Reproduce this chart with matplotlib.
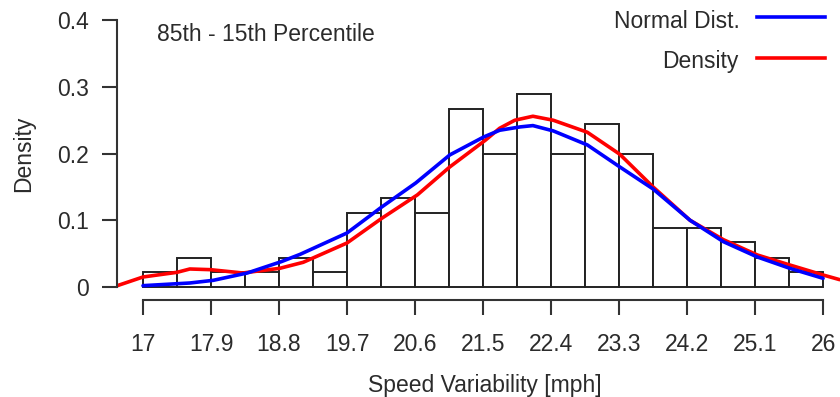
import numpy as np
import matplotlib
matplotlib.use('Agg')
import matplotlib.pyplot as plt
from matplotlib.lines import Line2D

plt.rcParams['font.family'] = ['Liberation Sans', 'DejaVu Sans']

# Histogram (density) - bins of 0.45 mph from 17 to 26
bin_edges = np.arange(17, 26.001, 0.45)
hist_density = [0.022, 0.044, 0.022, 0.022, 0.044, 0.022, 0.111, 0.133, 0.111, 0.267,
                0.200, 0.289, 0.200, 0.244, 0.200, 0.089, 0.089, 0.067, 0.044, 0.022]

# Fitted normal curve
normal_x = [17.00, 17.62, 17.93, 18.38, 18.83, 19.08, 19.70, 20.16, 20.61, 21.06, 21.51, 21.72,
            21.99, 22.16, 22.43, 22.88, 23.31, 23.75, 24.24, 24.68, 25.13, 25.56, 26.00]
normal_y = [0.002, 0.006, 0.010, 0.021, 0.038, 0.049, 0.081, 0.120, 0.156, 0.198, 0.225, 0.235,
            0.240, 0.242, 0.234, 0.213, 0.180, 0.147, 0.100, 0.068, 0.045, 0.028, 0.013]

# Kernel density curve
kde_x = [16.66, 17.00, 17.45, 17.62, 17.89, 18.32, 18.81, 19.12, 19.70, 20.16, 20.63, 21.06, 21.53,
         21.72, 21.92, 22.16, 22.43, 22.88, 23.31, 23.75, 24.24, 24.68, 25.13, 25.56, 26.00, 26.22]
kde_y = [0.002, 0.015, 0.022, 0.027, 0.026, 0.021, 0.028, 0.037, 0.066, 0.103, 0.138, 0.180, 0.220,
         0.238, 0.250, 0.256, 0.250, 0.232, 0.199, 0.150, 0.100, 0.071, 0.048, 0.033, 0.018, 0.011]

x_ticks = [17, 17.9, 18.8, 19.7, 20.6, 21.5, 22.4, 23.3, 24.2, 25.1, 26]
x_tick_labels = ['17', '17.9', '18.8', '19.7', '20.6', '21.5', '22.4', '23.3', '24.2', '25.1', '26']
y_ticks = [0, 0.1, 0.2, 0.3, 0.4]
y_tick_labels = ['0', '0.1', '0.2', '0.3', '0.4']

W, H = 840, 397
fs = 16.5
txt = '#2b2b2b'
axc = '#333333'


def fx(px):
    return px / W


def fy(py):
    return 1 - py / H


fig = plt.figure(figsize=(W / 100, H / 100), dpi=100)
ax = fig.add_axes([fx(117), fy(300), fx(840) - fx(117), fy(10) - fy(300)])

widths = np.diff(bin_edges)
ax.bar(bin_edges[:-1], hist_density, width=widths, align='edge',
       facecolor='white', edgecolor='#222222', linewidth=1.4)
ax.plot(kde_x, kde_y, color='#ff0000', lw=2.6, solid_capstyle='round')
ax.plot(normal_x, normal_y, color='#0000ff', lw=2.6, solid_capstyle='round')

ax.set_xlim(16.656, 26.224)
ax.set_ylim(-0.0195, 0.4153)

for s in ['top', 'right']:
    ax.spines[s].set_visible(False)
ax.spines['left'].set_bounds(0, 0.4)
ax.spines['bottom'].set_bounds(17, 26)
for s in ['left', 'bottom']:
    ax.spines[s].set_linewidth(1.5)
    ax.spines[s].set_color(axc)

ax.set_xticks(x_ticks)
ax.set_xticklabels(x_tick_labels)
ax.set_yticks(y_ticks)
ax.set_yticklabels(y_tick_labels)
ax.tick_params(axis='both', length=10.5, width=1.5, color=axc, labelsize=fs, labelcolor=txt)
ax.tick_params(axis='x', pad=13)
ax.tick_params(axis='y', pad=9.4)

# Texts
fig.text(fx(157), fy(41), '85th - 15th Percentile', fontsize=fs, color=txt, ha='left', va='baseline')
fig.text(fx(24), fy(154), 'Density', fontsize=fs, color=txt, rotation=90, ha='center', va='center')
fig.text(fx(484.5), fy(392), 'Speed Variability [mph]', fontsize=fs, color=txt, ha='center', va='baseline')

# Legend drawn by hand
fig.text(fx(740), fy(28), 'Normal Dist.', fontsize=fs, color=txt, ha='right', va='baseline')
fig.text(fx(738), fy(68), 'Density', fontsize=fs, color=txt, ha='right', va='baseline')
fig.add_artist(Line2D([fx(757), fx(825)], [fy(16.7), fy(16.7)], color='#0000ff', lw=2.6))
fig.add_artist(Line2D([fx(757), fx(825)], [fy(58.3), fy(58.3)], color='#ff0000', lw=2.6))

fig.savefig('out.png', dpi=100)
